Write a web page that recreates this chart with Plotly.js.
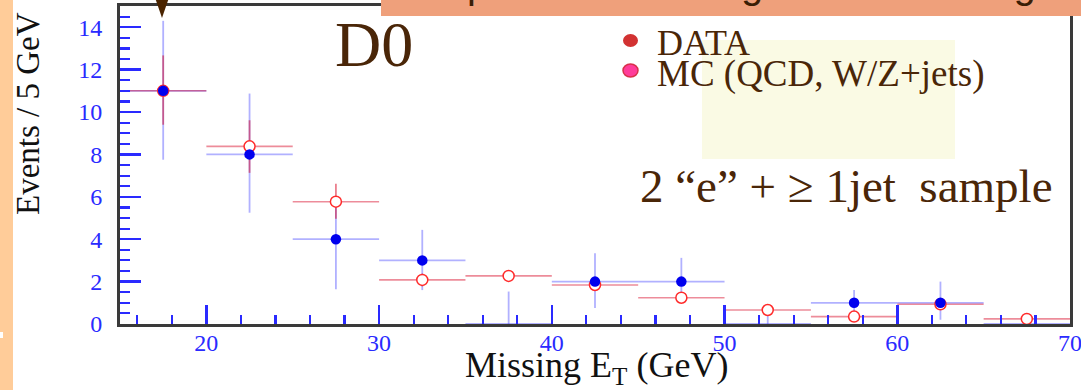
<!DOCTYPE html>
<html>
<head>
<meta charset="utf-8">
<script src="https://cdn.plot.ly/plotly-3.0.1.min.js"></script>
<style>
html,body{margin:0;padding:0;background:#fff;}
#chart{width:1081px;height:390px;}
</style>
</head>
<body>
<div id="chart"></div>
<script>
// ---- data ----
const binCenters   = [17.5, 22.5, 27.5, 32.5, 37.5, 42.5, 47.5, 52.5, 57.5, 62.5, 67.5];
const binHalfWidth = 2.5;
const dataEvents   = [11, 8, 4, 3, 0, 2, 2, 0, 1, 1, 0];
const dataErrUp    = [3.3, 2.87, 2.0, 1.44, 1.53, 1.34, 1.12, 0.8, 0.6, 1.0, 0.4];
const dataErrDown  = [3.25, 2.75, 2.36, 1.4, 0, 1.25, 1.01, 0, 0.6, 0.8, 0];
const mcEvents     = [11, 8.38, 5.77, 2.08, 2.27, 1.84, 1.24, 0.66, 0.35, 0.93, 0.24];
const mcErrUp      = [1.67, 1.23, 0.85, 0.3, 0.2, 0.2, 0.15, 0.1, 0.1, 0.1, 0.05];
const mcErrDown    = [1.6, 1.25, 0.8, 0.3, 0.2, 0.2, 0.15, 0.1, 0.1, 0.1, 0.05];
const xTickVals    = [20, 30, 40, 50, 60, 70];
const yTickVals    = [0, 2, 4, 6, 8, 10, 12, 14];
const legendLabels = ['DATA', 'MC (QCD, W/Z+jets)'];
const xTitle = 'Missing E<sub>T</sub> (GeV)';
const yTitle = 'Events / 5 GeV';
const sampleLabel = '2 \u201Ce\u201D + \u2265 1jet\u00A0 sample';
const experimentLabel = 'D0';
const bannerText = 'Important for background modeling';

// ---- layout helpers (pixel -> paper) ----
const L = 120, R = 1070, T = 6, B = 324;
const px = x => (x - L) / (R - L);
const py = y => (B - y) / (B - T);

const brown = '#4a2608';
const serif = 'Liberation Serif';
const tickBlue = '#2a2aff';
const mkTickFont = () => ({family: serif, size: 24, color: tickBlue});

const traces = [
  { // data error bars only
    x: binCenters, y: dataEvents, type: 'scatter', mode: 'markers',
    marker: {size: 8, color: 'rgba(0,0,0,0)'},
    error_x: {type: 'constant', value: binHalfWidth, width: 0, thickness: 1.8, color: 'rgba(60,60,255,0.4)'},
    error_y: {type: 'data', symmetric: false, array: dataErrUp, arrayminus: dataErrDown, width: 0, thickness: 1.8, color: 'rgba(60,60,255,0.4)'},
    hoverinfo: 'skip', showlegend: false
  },
  { // MC
    x: binCenters, y: mcEvents, type: 'scatter', mode: 'markers',
    marker: {symbol: 'circle', size: 11, color: '#ffffff', line: {color: '#ff2a2a', width: 1.5}},
    error_x: {type: 'constant', value: binHalfWidth, width: 0, thickness: 1.6, color: 'rgba(215,0,30,0.45)'},
    error_y: {type: 'data', symmetric: false, array: mcErrUp, arrayminus: mcErrDown, width: 0, thickness: 1.8, color: 'rgba(215,0,30,0.5)'},
    hoverinfo: 'skip', showlegend: false
  },
  { // data markers on top
    x: binCenters, y: dataEvents.map(v => v > 0 ? v : null), type: 'scatter', mode: 'markers',
    marker: {symbol: 'circle', size: 10.5, color: '#0000ee'},
    hoverinfo: 'skip', showlegend: false
  }
];

const layout = {
  width: 1081, height: 390,
  margin: {l: L, r: 1081 - R, t: T, b: 390 - B, pad: 0},
  paper_bgcolor: '#ffffff', plot_bgcolor: '#ffffff',
  font: {family: serif, size: 24, color: tickBlue},
  showlegend: false,
  xaxis: {
    range: [15, 70], tickmode: 'array', tickvals: xTickVals, ticktext: xTickVals.map(String),
    ticks: 'inside', ticklen: 19, tickwidth: 2.5, tickcolor: tickBlue,
    minor: {dtick: 2, tick0: 0, ticks: 'inside', ticklen: 9, tickwidth: 2.2, tickcolor: tickBlue},
    tickfont: mkTickFont(), ticklabeloverflow: 'allow', ticklabelstandoff: -5,
    showline: true, linecolor: '#3a3a3a', linewidth: 3, mirror: true,
    showgrid: false, zeroline: false, fixedrange: true
  },
  yaxis: {
    range: [0, 15], tickmode: 'array', tickvals: yTickVals, ticktext: yTickVals.map(String),
    ticks: 'inside', ticklen: 21, tickwidth: 2.5, tickcolor: tickBlue,
    minor: {dtick: 0.5, tick0: 0, ticks: 'inside', ticklen: 10, tickwidth: 2.2, tickcolor: tickBlue},
    tickfont: mkTickFont(), ticklabelstandoff: 10,
    showline: true, linecolor: '#3a3a3a', linewidth: 3, mirror: true,
    showgrid: false, zeroline: false, fixedrange: true
  },
  shapes: [
    // slide left strip
    {type: 'rect', xref: 'paper', yref: 'paper', x0: px(0), x1: px(13), y0: py(390), y1: py(0),
     fillcolor: '#FFCC99', line: {width: 0}, layer: 'above'},
    {type: 'rect', xref: 'paper', yref: 'paper', x0: px(0), x1: px(3), y0: py(338), y1: py(332),
     fillcolor: '#ffffff', line: {width: 0}, layer: 'above'},
    // pale yellow box behind the legend
    {type: 'rect', xref: 'paper', yref: 'paper', x0: px(702), x1: px(955), y0: py(159), y1: py(40),
     fillcolor: '#FAFAE4', line: {width: 0}, layer: 'below'},
    // banner
    {type: 'rect', xref: 'paper', yref: 'paper', x0: px(381), x1: px(1081), y0: py(16), y1: py(-2),
     fillcolor: '#EFA07B', line: {width: 0}, layer: 'above'},
    // legend dots
    {type: 'circle', xref: 'paper', yref: 'paper', x0: px(623), x1: px(638), y0: py(47), y1: py(34),
     fillcolor: '#D23232', line: {width: 0}, layer: 'above'},
    {type: 'circle', xref: 'paper', yref: 'paper', x0: px(623), x1: px(638), y0: py(77), y1: py(64),
     fillcolor: '#FF3C9A', line: {color: '#D8304A', width: 1.5}, layer: 'above'},
    // arrow at the top
    {type: 'path', xref: 'paper', yref: 'paper',
     path: `M ${px(155.5)} ${py(-1)} L ${px(168.5)} ${py(-1)} L ${px(162)} ${py(18)} Z`,
     fillcolor: '#4a2400', line: {width: 0}, layer: 'above'}
  ],
  annotations: [
    {text: bannerText, xref: 'paper', yref: 'paper', x: px(421), y: py(-16), xanchor: 'left', yanchor: 'middle',
     showarrow: false, font: {family: 'Liberation Sans', size: 39.5, color: '#3a1e05'}},
    {text: experimentLabel, xref: 'paper', yref: 'paper', x: px(333), y: py(45), xanchor: 'left', yanchor: 'middle',
     showarrow: false, font: {family: serif, size: 64, color: brown}},
    {text: legendLabels[0], xref: 'paper', yref: 'paper', x: px(655), y: py(43), xanchor: 'left', yanchor: 'middle',
     showarrow: false, font: {family: serif, size: 36, color: brown}},
    {text: legendLabels[1], xref: 'paper', yref: 'paper', x: px(655), y: py(74), xanchor: 'left', yanchor: 'middle',
     showarrow: false, font: {family: serif, size: 37, color: brown}},
    {text: sampleLabel, xref: 'paper', yref: 'paper', x: px(638), y: py(186), xanchor: 'left', yanchor: 'middle',
     showarrow: false, font: {family: serif, size: 47, color: brown}},
    {text: yTitle, xref: 'paper', yref: 'paper', x: px(28), y: py(114), xanchor: 'center', yanchor: 'middle',
     textangle: -90, showarrow: false, font: {family: serif, size: 33, color: '#111111'}},
    {text: xTitle, xref: 'paper', yref: 'paper', x: px(596), y: py(367), xanchor: 'center', yanchor: 'middle',
     showarrow: false, font: {family: serif, size: 36, color: '#111111'}}
  ]
};

Plotly.newPlot('chart', traces, layout, {staticPlot: true, displayModeBar: false});
</script>
</body>
</html>
